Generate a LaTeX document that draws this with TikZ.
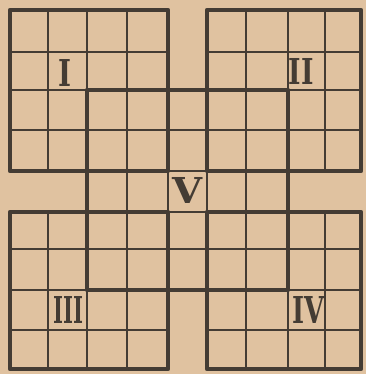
\documentclass[tikz,border=0pt]{standalone}
\usepackage{graphicx}
\usepackage{fontspec}
\newfontfamily\numfont{DejaVu Serif}
\definecolor{paper}{RGB}{224,194,160}
\definecolor{ink}{RGB}{68,60,52}
\tikzset{
  gridline/.style={draw=ink, line width=2.8pt},
  border/.style={draw=ink, line width=4.2pt, line join=round},
  numlabel/.style={text=ink, inner sep=0pt, font=\numfont\bfseries}
}
\newcommand\gridsq[3]{%
  \pgfmathtruncatemacro\gea{#1+#3}%
  \pgfmathtruncatemacro\gec{#2+#3}%
  \foreach \k in {#1,...,\gea} \draw[gridline] (p\k-#2) -- (p\k-\gec);
  \foreach \k in {#2,...,\gec} \draw[gridline] (p#1-\k) -- (p\gea-\k);
  \draw[border] (p#1-#2) rectangle (p\gea-\gec);
}
\begin{document}
\begin{tikzpicture}[x=1pt,y=-1pt]
\fill[paper] (0,0) rectangle (366,374);
\useasboundingbox (0,0) rectangle (366,374);
\foreach \i/\x in {0/10,1/48,2/87,3/127,4/168,5/207,6/246,7/288,8/325,9/361}
  \foreach \j/\y in {0/10,1/52,2/90,3/130,4/171,5/212,6/249,7/290,8/330,9/369}
    \coordinate (p\i-\j) at (\x,\y);
\gridsq{0}{0}{4}
\gridsq{5}{0}{4}
\gridsq{0}{5}{4}
\gridsq{5}{5}{4}
\gridsq{2}{2}{5}
\node[numlabel] (lI)   at (65,73)   {\resizebox{13pt}{27pt}{I}};
\node[numlabel] (lII)  at (301,72)  {\resizebox{25pt}{26pt}{II}};
\node[numlabel] (lIII) at (68,310)  {\resizebox{30pt}{27pt}{III}};
\node[numlabel] (lIV)  at (308,310) {\resizebox{32pt}{27pt}{IV}};
\node[numlabel] (lV)   at (187,190) {\resizebox{30pt}{26pt}{V}};
\end{tikzpicture}
\end{document}
